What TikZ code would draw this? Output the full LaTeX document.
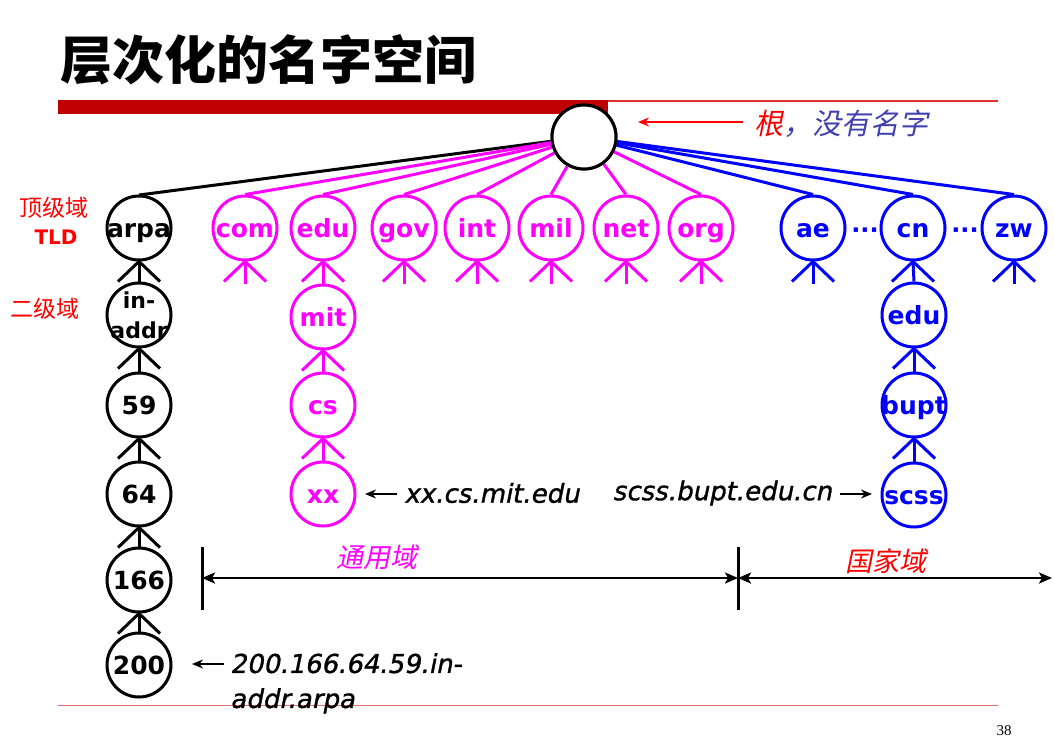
\documentclass[tikz,border=0pt]{standalone}
\usepackage{fontspec}
\setmainfont{DejaVu Sans}
\newfontfamily\cjk{Noto Sans CJK SC}
\newfontfamily\cjki{Noto Sans CJK SC}[FakeSlant=0.2]
\newfontfamily\annfont{DejaVu Sans}[FakeSlant=0.2,FakeBold=1.2]
\newfontfamily\serifnum{Liberation Serif}
\usetikzlibrary{arrows.meta}
\definecolor{mag}{RGB}{255,0,255}
\definecolor{blu}{RGB}{0,0,255}
\definecolor{rtblue}{RGB}{64,64,176}
\definecolor{barred}{RGB}{192,0,0}
\definecolor{thinred}{RGB}{220,50,50}
\definecolor{lightred}{RGB}{235,110,110}
\tikzset{
  nt/.style={font=\fontsize{25}{25}\selectfont\bfseries, inner sep=0pt, text height=19pt, text depth=0pt},
  dn/.style={circle, draw, line width=3pt, minimum size=64pt, inner sep=0pt, fill=white, label={[nt]center:#1}},
  edge/.style={line width=3pt},
  foot/.style={line width=3pt},
  ann/.style={font=\annfont\fontsize{26}{30}\selectfont, inner sep=0pt},
  smallarr/.style={line width=2.6pt, -{Stealth[length=11pt,width=9pt]}},
  spanarr/.style={line width=2.6pt, {Stealth[length=13pt,width=11pt,inset=3pt]}-{Stealth[length=13pt,width=11pt,inset=3pt]}},
  bar/.style={line width=3pt},
  dotsty/.style={font=\bfseries\fontsize{24}{24}\selectfont, inner sep=0pt, anchor=base},
}
\newcommand{\crow}[1]{\draw[foot] (#1.south) -- ++(-21,20) (#1.south) -- ++(21,20);}
\newcommand{\leaf}[1]{\crow{#1}\draw[foot] (#1.south) -- ++(0,22);}
\begin{document}
\begin{tikzpicture}[x=1pt,y=-1pt]
\useasboundingbox (0,0) rectangle (1054,742);
% title and rules
\node[anchor=west, inner sep=0pt, font=\cjk\bfseries\fontsize{52}{52}\selectfont] (title) at (60,60) {层次化的名字空间};
\fill[barred] (58,100) rectangle (608,114);
\draw[thinred, line width=1.2pt] (608,101) -- (998,101);
\draw[lightred, line width=1pt] (58,705) -- (998,705);
\node[font=\serifnum\fontsize{15}{15}\selectfont] (pg) at (1004,731) {38};

% root
\node[dn={}] (root) at (584,137) {};

% top level domains
\begin{scope}[black]
\draw[edge] (root) -- (139,195);
\node[dn=arpa] (arpa) at (139,228) {};
\end{scope}
\begin{scope}[mag]
\node[dn=com] (com) at (245,228) {};
\node[dn=edu] (edu) at (323,228) {};
\node[dn=gov] (gov) at (404,228) {};
\node[dn=int] (int) at (477,228) {};
\node[dn=mil] (mil) at (551,228) {};
\node[dn=net] (net) at (626,228) {};
\node[dn=org] (org) at (701,228) {};
\foreach \n in {com,edu,gov,int,mil,net,org} {\draw[edge] (root) -- (\n.north);}
\end{scope}
\begin{scope}[blu]
\node[dn=ae] (ae) at (813,228) {};
\node[dn=cn] (cn) at (913,228) {};
\node[dn=zw] (zw) at (1014,228) {};
\foreach \n in {ae,cn,zw} {\draw[edge] (root) -- (\n.north);}
\node[dotsty] (dots1) at (865,238) {···};
\node[dotsty] (dots2) at (965,238) {···};
\end{scope}
\node[dn={}] (root2) at (584,137) {};

% arpa chain
\begin{scope}[black]
\node[circle, draw, line width=3pt, minimum size=64pt, inner sep=0pt, fill=white,
  label={[font=\fontsize{22}{30}\selectfont\bfseries, inner sep=0pt, align=center]center:in-\\addr}] (inaddr) at (139,315) {};
\node[dn=59] (n59) at (139,405) {};
\node[dn=64] (n64) at (139,494) {};
\node[dn=166] (n166) at (139,580) {};
\node[dn=200] (n200) at (139,665) {};
\draw[foot] (inaddr.north) -- (arpa.south); \crow{arpa}
\draw[foot] (n59.north) -- (inaddr.south); \crow{inaddr}
\draw[foot] (n64.north) -- (n59.south); \crow{n59}
\draw[foot] (n166.north) -- (n64.south); \crow{n64}
\draw[foot] (n200.north) -- (n166.south); \crow{n166}
\end{scope}

% edu chain
\begin{scope}[mag]
\node[dn=mit] (mit) at (323,317) {};
\node[dn=cs] (cs) at (323,405) {};
\node[dn=xx] (xx) at (323,494) {};
\draw[foot] (mit.north) -- (edu.south); \crow{edu}
\draw[foot] (cs.north) -- (mit.south); \crow{mit}
\draw[foot] (xx.north) -- (cs.south); \crow{cs}
\leaf{com}\leaf{gov}\leaf{int}\leaf{mil}\leaf{net}\leaf{org}
\end{scope}

% cn chain
\begin{scope}[blu]
\node[dn=edu] (cnedu) at (914,315) {};
\node[dn=bupt] (bupt) at (914,405) {};
\node[dn=scss] (scss) at (914,495) {};
\draw[foot] (cnedu.north) -- (cn.south); \crow{cn}
\draw[foot] (bupt.north) -- (cnedu.south); \crow{cnedu}
\draw[foot] (scss.north) -- (bupt.south); \crow{bupt}
\leaf{ae}\leaf{zw}
\end{scope}

% root label
\coordinate (ra1) at (743,122);
\coordinate (ra2) at (638,122);
\draw[red, smallarr] (ra1) -- (ra2);
\node[anchor=west, inner sep=0pt, font=\cjki\fontsize{29}{29}\selectfont] (rootlbl) at (754,124) {\textcolor{red}{根}\textcolor{rtblue}{，没有名字}};

% left labels
\node[red, font=\cjk\fontsize{23}{23}\selectfont, inner sep=0pt] (tldcn) at (54,208) {顶级域};
\node[red, font=\bfseries\fontsize{20}{20}\selectfont, inner sep=0pt] (tld) at (56,237) {TLD};
\node[red, font=\cjk\fontsize{23}{23}\selectfont, inner sep=0pt] (sld) at (45,309) {二级域};

% annotations
\node[ann, anchor=west] (xxl) at (404,493) {xx.cs.mit.edu};
\coordinate (xa1) at (397,494);
\coordinate (xa2) at (365,494);
\draw[smallarr] (xa1) -- (xa2);
\node[ann, anchor=east] (scl) at (832,493) {scss.bupt.edu.cn};
\coordinate (sa1) at (840,494);
\coordinate (sa2) at (872,494);
\draw[smallarr] (sa1) -- (sa2);
\node[ann, anchor=north west, align=left, font=\annfont\fontsize{26}{35}\selectfont] (ipl) at (230,653) {200.166.64.59.in-\\addr.arpa};
\coordinate (ia1) at (224,664);
\coordinate (ia2) at (192,664);
\draw[smallarr] (ia1) -- (ia2);

% spans
\coordinate (bl) at (202,578);
\coordinate (bm) at (738,578);
\coordinate (br) at (1052,578);
\draw[bar] (202,547) -- (202,610);
\draw[bar] (738,547) -- (738,610);
\draw[spanarr] (bl) -- (bm);
\draw[spanarr] (bm) -- (br);
\node[mag, font=\cjki\fontsize{27}{27}\selectfont, inner sep=0pt] (gen) at (377,557) {通用域};
\node[red, font=\cjki\fontsize{27}{27}\selectfont, inner sep=0pt] (nat) at (886,561) {国家域};
\end{tikzpicture}
\end{document}
